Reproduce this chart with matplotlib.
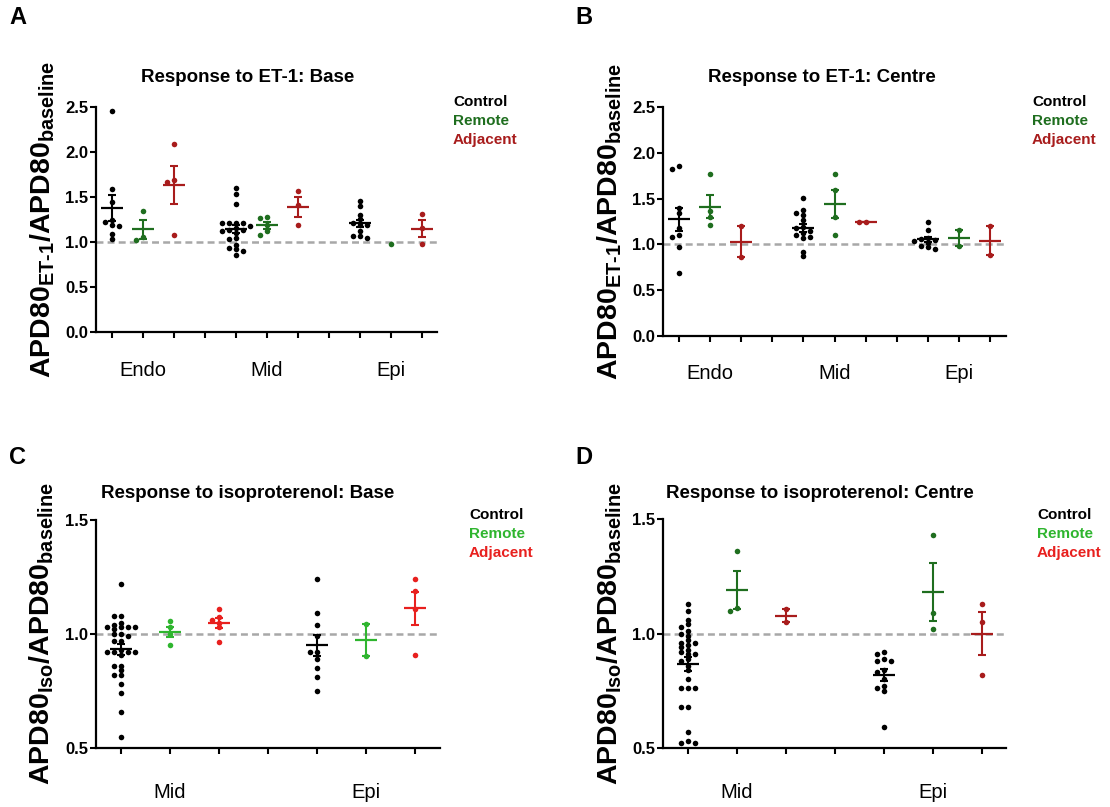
import numpy as np
import matplotlib
matplotlib.use("Agg")
import matplotlib.pyplot as plt
from matplotlib import transforms

plt.rcParams['font.family'] = ['Liberation Sans', 'DejaVu Sans']
plt.rcParams['mathtext.fontset'] = 'custom'
plt.rcParams['mathtext.rm'] = 'Liberation Sans:bold'
plt.rcParams['mathtext.bf'] = 'Liberation Sans:bold'
plt.rcParams['mathtext.it'] = 'Liberation Sans:bold'
plt.rcParams['lines.scale_dashes'] = False

# ---------------- data ----------------
GROUPS = ['Control', 'Remote', 'Adjacent']
REGIONS_ET = ['Endo', 'Mid', 'Epi']
REGIONS_ISO = ['Mid', 'Epi']

# Panel A: ET-1, Base  (per region: Endo, Mid, Epi)
A_CONTROL = [
    [2.45, 1.59, 1.44, 1.24, 1.22, 1.19, 1.18, 1.09, 1.03],
    [1.60, 1.53, 1.42, 1.21, 1.21, 1.21, 1.21, 1.18, 1.16, 1.13, 1.13, 1.12, 1.10,
     1.04, 1.03, 0.97, 0.93, 0.92, 0.90, 0.86],
    [1.45, 1.40, 1.30, 1.25, 1.21, 1.19, 1.19, 1.12, 1.07, 1.07, 1.04],
]
A_REMOTE = [[1.34, 1.06, 1.02], [1.27, 1.28, 1.19, 1.08, 1.12], [0.98]]
A_ADJACENT = [[2.09, 1.69, 1.67, 1.08], [1.57, 1.41, 1.19], [1.31, 1.16, 0.98]]

# Panel B: ET-1, Centre
B_CONTROL = [
    [1.86, 1.83, 1.40, 1.34, 1.18, 1.10, 1.08, 0.97, 0.69],
    [1.51, 1.38, 1.34, 1.32, 1.27, 1.19, 1.18, 1.15, 1.12, 1.10, 1.08, 1.07, 0.92, 0.87],
    [1.24, 1.16, 1.07, 1.06, 1.05, 1.04, 1.02, 0.98, 0.97, 0.95],
]
B_REMOTE = [[1.77, 1.37, 1.30, 1.21], [1.77, 1.60, 1.30, 1.10], [1.16, 0.98]]
B_ADJACENT = [[1.20, 0.86], [1.25, 1.25], [1.20, 0.88]]

# Panel C: isoproterenol, Base (per region: Mid, Epi)
C_CONTROL = [
    [1.22, 1.08, 1.08, 1.05, 1.04, 1.03, 1.03, 1.03, 1.03, 1.02, 1.00, 1.00, 0.99, 0.97,
     0.97, 0.93, 0.92, 0.92, 0.92, 0.92, 0.91, 0.86, 0.86, 0.84, 0.82, 0.82, 0.78, 0.74,
     0.66, 0.55],
    [1.24, 1.09, 1.04, 0.99, 0.92, 0.92, 0.89, 0.85, 0.81, 0.75],
]
C_REMOTE = [[1.055, 1.03, 1.00, 0.95], [1.045, 0.905]]
C_ADJACENT = [[1.11, 1.075, 1.06, 1.05, 1.03, 0.965], [1.24, 1.19, 1.11, 0.91]]

# Panel D: isoproterenol, Centre
D_CONTROL = [
    [1.13, 1.10, 1.06, 1.04, 1.03, 1.01, 1.00, 0.99, 0.97, 0.96, 0.96, 0.95, 0.94, 0.93,
     0.92, 0.91, 0.91, 0.89, 0.88, 0.86, 0.84, 0.80, 0.76, 0.76, 0.76, 0.68, 0.68, 0.57,
     0.53, 0.52, 0.52],
    [0.92, 0.91, 0.89, 0.88, 0.88, 0.84, 0.83, 0.80, 0.77, 0.76, 0.75, 0.59],
]
D_REMOTE = [[1.36, 1.11, 1.10], [1.43, 1.09, 1.02]]
D_ADJACENT = [[1.105, 1.05], [1.13, 1.05, 0.82]]

YTICKS_ET = [0.0, 0.5, 1.0, 1.5, 2.0, 2.5]
YTICKS_ISO = [0.5, 1.0, 1.5]

# ---------------- style ----------------
BLACK = '#000000'
DGREEN = '#1f6e1f'
DRED = '#a81c1c'
BGREEN = '#2fb52f'
BRED = '#e8201e'

W, H = 1110, 807
fig = plt.figure(figsize=(W / 100, H / 100), dpi=100)


def px_rect(left, top, right, bottom):
    return [left / W, 1 - bottom / H, (right - left) / W, (bottom - top) / H]


def swarm(ax, x0, vals, step_px=7.0, gap_px=3.8):
    pts = ax.transData.transform(np.column_stack([np.full(len(vals), x0), vals]))
    ys = pts[:, 1]
    order = np.argsort(-np.asarray(vals))
    cols = np.zeros(len(vals))
    placed = []
    cand = [0, -1, 1, -2, 2, -3, 3, -4, 4, -5, 5]
    for i in order:
        for c in cand:
            if all(not (pc == c and abs(py - ys[i]) < gap_px) for pc, py in placed):
                cols[i] = c
                placed.append((c, ys[i]))
                break
    px_per_unit = ax.transData.transform((1, 0))[0] - ax.transData.transform((0, 0))[0]
    return x0 + cols * step_px / px_per_unit


def panel(rect, regions, groups_data, dot_colors, leg_colors, ylim, yticks,
          title, title_xy, ylabel, label_x, letter, letter_xy, legend_xy, cat_offset):
    ax = fig.add_axes(rect)
    nreg = len(regions)
    xmax = 4 * (nreg - 1) + 2
    ax.set_xlim(-0.5, xmax + 0.5)
    ax.set_ylim(*ylim)
    for s in ['top', 'right']:
        ax.spines[s].set_visible(False)
    for s in ['left', 'bottom']:
        ax.spines[s].set_linewidth(1.6)
    ax.set_xticks(np.arange(0, xmax + 1))
    ax.set_xticklabels([])
    ax.set_yticks(yticks)
    ax.set_yticklabels(['%.1f' % t for t in yticks], fontsize=12, fontweight='bold')
    ax.tick_params(axis='both', length=4, width=1.5, pad=1.5)
    ax.axhline(1.0, color='#a8a8a8', lw=1.8, dashes=(5, 3), zorder=1)

    px_per_unit = ax.transData.transform((1, 0))[0] - ax.transData.transform((0, 0))[0]
    hw = 11.0 / px_per_unit
    for gi, gdata in enumerate(groups_data):
        col = dot_colors[gi]
        for ri, vals in enumerate(gdata):
            x0 = ri * 4 + gi
            v = np.asarray(vals, dtype=float)
            xs = swarm(ax, x0, v)
            ax.plot(xs, v, 'o', ms=4.0, color=col, mec='none', zorder=3)
            if len(v) > 1:
                m = v.mean()
                sem = v.std(ddof=1) / np.sqrt(len(v))
                ax.hlines(m, x0 - hw, x0 + hw, color=col, lw=1.6, zorder=4)
                ax.errorbar([x0], [m], yerr=[sem], fmt='none', ecolor=col,
                            elinewidth=1.5, capsize=2.6, capthick=1.5, zorder=4)

    off = transforms.offset_copy(ax.get_xaxis_transform(), fig=fig, y=-cat_offset, units='dots')
    for ri, r in enumerate(regions):
        ax.text(ri * 4 + 1, 0, r, transform=off, ha='center', va='center', fontsize=14.5)

    ax.set_ylabel(ylabel, fontsize=20.5, fontweight='bold')
    ax.yaxis.set_label_coords(label_x, 0.5)

    fig.text(title_xy[0] / W, 1 - title_xy[1] / H, title, ha='center', va='center',
             fontsize=13.5, fontweight='bold')
    fig.text(letter_xy[0] / W, 1 - letter_xy[1] / H, letter, ha='left', va='center',
             fontsize=17, fontweight='bold')
    for k, g in enumerate(GROUPS):
        fig.text(legend_xy[0] / W, 1 - (legend_xy[1] + k * 19) / H, g, ha='left', va='center',
                 fontsize=11, fontweight='bold', color=leg_colors[k])
    return ax


YL_ET = r'APD80$_{\text{ET-1}}$/APD80$_{\text{baseline}}$'
YL_ISO = r'APD80$_{\text{Iso}}$/APD80$_{\text{baseline}}$'

panel(px_rect(96, 106.7, 437, 332.3), REGIONS_ET, [A_CONTROL, A_REMOTE, A_ADJACENT],
      [BLACK, DGREEN, DRED], [BLACK, DGREEN, DRED], (0, 2.5), YTICKS_ET,
      'Response to ET-1: Base', (248, 77), YL_ET, -0.115, 'A', (9, 17), (453, 102), 38)
panel(px_rect(663, 107.3, 1006, 335.7), REGIONS_ET, [B_CONTROL, B_REMOTE, B_ADJACENT],
      [BLACK, DGREEN, DRED], [BLACK, DGREEN, DRED], (0, 2.5), YTICKS_ET,
      'Response to ET-1: Centre', (822, 77), YL_ET, -0.115, 'B', (575, 17), (1032, 102), 38)
panel(px_rect(96, 520, 440, 748), REGIONS_ISO, [C_CONTROL, C_REMOTE, C_ADJACENT],
      [BLACK, BGREEN, BRED], [BLACK, BGREEN, BRED], (0.5, 1.5), YTICKS_ISO,
      'Response to isoproterenol: Base', (248, 493), YL_ISO, -0.115, 'C', (9, 457), (469, 515), 44)
panel(px_rect(663, 519, 1006, 748), REGIONS_ISO, [D_CONTROL, D_REMOTE, D_ADJACENT],
      [BLACK, DGREEN, DRED], [BLACK, BGREEN, BRED], (0.5, 1.5), YTICKS_ISO,
      'Response to isoproterenol: Centre', (820, 493), YL_ISO, -0.115, 'D', (575, 457), (1037, 515), 44)

fig.savefig('out.png', dpi=100, facecolor='white')
